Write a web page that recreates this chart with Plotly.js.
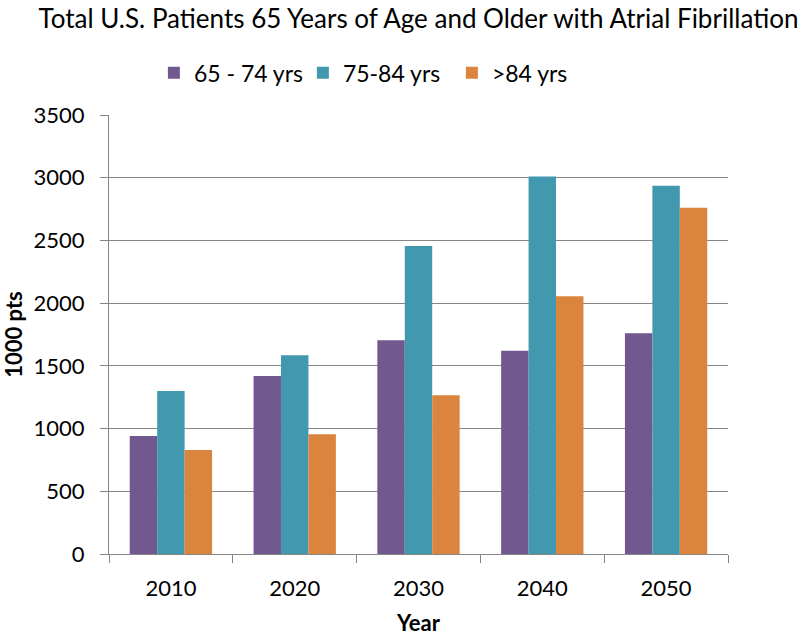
<!DOCTYPE html>
<html><head><meta charset="utf-8">
<script src="https://cdn.plot.ly/plotly-3.0.1.min.js"></script>
<style>body{margin:0;background:#fff}#chart{width:800px;height:638px}</style>
</head><body><div id="chart"></div>
<script>
const years = ['2010','2020','2030','2040','2050'];
const seriesNames = ['65 - 74 yrs','75-84 yrs','>84 yrs'];
const age65to74 = [940, 1420, 1705, 1620, 1760];
const age75to84 = [1300, 1585, 2455, 3010, 2935];
const ageOver84 = [830, 955, 1265, 2055, 2760];
const colors = ['#71588F', '#4198AF', '#DB843D'];
const FONT = 'Lato, "Open Sans", sans-serif';

const data = [age65to74, age75to84, ageOver84].map((vals, i) => ({
  type: 'bar', x: years, y: vals, name: seriesNames[i],
  marker: {color: colors[i], line: {width: 0}}, hoverinfo: 'skip'
}));

const layout = {
  width: 800, height: 638,
  margin: {l: 109, r: 72, t: 115, b: 84},
  paper_bgcolor: '#fff', plot_bgcolor: '#fff',
  font: {family: FONT, color: '#000', size: 22},
  title: {text: 'Total U.S. Patients 65 Years of Age and Older with Atrial Fibrillation',
          font: {family: FONT, size: 26, color: '#000'}, x: 0.5, xref: 'paper', xanchor: 'center', y: 0.97, yref: 'container', yanchor: 'middle'},
  bargap: 0.335, bargroupgap: 0,
  showlegend: true,
  legend: {orientation: 'h', x: 0.0725, xanchor: 'left', y: 1.096, yanchor: 'middle',
           font: {family: FONT, size: 23}, itemwidth: 30, traceorder: 'normal',
           entrywidthmode: 'pixels', entrywidth: 104},
  xaxis: {type: 'category', tickson: 'boundaries', ticks: 'outside', ticklen: 8, tickcolor: '#868686',
          showline: true, linecolor: '#868686', linewidth: 1, showgrid: false, zeroline: false,
          tickfont: {family: FONT, size: 22}, ticklabelstandoff: 15,
          title: {text: '<b>Year</b>', font: {family: FONT, size: 22}, standoff: 15}},
  yaxis: {range: [0, 3500], dtick: 500, tick0: 0, ticks: 'outside', ticklen: 8, tickcolor: '#868686',
          showline: true, linecolor: '#868686', linewidth: 1, showgrid: true, gridcolor: '#868686', gridwidth: 1,
          zeroline: false, tickfont: {family: FONT, size: 22}, ticklabelstandoff: 11,
          title: {text: '<b>1000 pts</b>', font: {family: FONT, size: 22}, standoff: 10}}
};
Plotly.newPlot('chart', data, layout, {staticPlot: true, displayModeBar: false});
</script></body></html>
